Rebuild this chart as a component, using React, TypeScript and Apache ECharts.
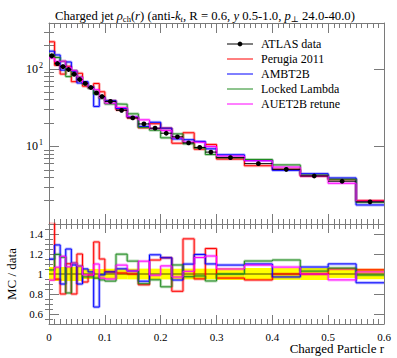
import React, { useEffect, useRef } from "react";
import * as echarts from "echarts";

const binEdges = [0, 0.01, 0.02, 0.03, 0.04, 0.05, 0.06, 0.07, 0.08, 0.09, 0.1, 0.12, 0.14, 0.16, 0.18, 0.2, 0.22, 0.24, 0.26, 0.28, 0.3, 0.35, 0.4, 0.45, 0.5, 0.55, 0.6];
const atlasData = [147, 117, 107, 98, 85.5, 73, 65, 57.5, 49, 44, 38, 29.2, 23.3, 19.5, 17.2, 14.8, 13.3, 11.1, 9.7, 8.45, 7.16, 6.0, 5.07, 4.16, 3.56, 1.93];
const atlasErr = [10.3, 8.2, 7.5, 6.9, 6.0, 5.1, 3.3, 2.9, 2.5, 2.2, 2.0, 1.55, 1.25, 1.05, 0.92, 0.8, 0.7, 0.6, 0.52, 0.45, 0.43, 0.36, 0.3, 0.25, 0.14, 0.1];
const perugia2011 = [223, 111, 85.6, 108, 68.4, 87.6, 59.8, 56.9, 64.7, 50.6, 38.8, 29.5, 23.3, 17.4, 19.6, 17.2, 11.0, 15.0, 9.22, 10.6, 6.87, 5.64, 5.07, 4.16, 3.74, 2.01];
const ambt2b = [169, 151, 96.3, 122.5, 93.2, 65.7, 68.3, 58.7, 32.8, 43.6, 38.8, 30.7, 24.0, 18.1, 20.5, 17.2, 12.5, 12.2, 11.6, 9.3, 7.8, 6.6, 4.92, 4.45, 3.92, 1.76];
const lockedLambda = [153, 140, 125, 79.4, 94.9, 78.8, 63.1, 55.8, 47.0, 41.4, 35.3, 35.0, 26.3, 17.6, 16.2, 12.9, 14.5, 10.8, 9.51, 7.86, 7.16, 6.78, 5.78, 4.28, 3.77, 1.91];
const auet2bRetune = [138, 125, 126, 105, 94.9, 78.8, 64.4, 56.9, 53.9, 42.2, 36.1, 31.8, 24.0, 22.0, 17.0, 16.0, 12.9, 11.4, 11.3, 9.97, 7.52, 6.54, 5.42, 4.16, 3.35, 1.97];

const legendNames = ["ATLAS data", "Perugia 2011", "AMBT2B", "Locked Lambda", "AUET2B retune"];
const mcColors = ["#ff0000", "#0000ff", "#1f8a1f", "#ff00ff"];
const logMajorTicks = [1, 10, 100];
const logLabelTicks = [10, 100];
const logMinorTicks = [2, 3, 4, 5, 6, 7, 8, 9, 20, 30, 40, 50, 60, 70, 80, 90, 200, 300];
const ratioMajorTicks = [0.6, 0.8, 1, 1.2, 1.4];
const ratioMinorTicks = [0.55, 0.65, 0.7, 0.75, 0.85, 0.9, 0.95, 1.05, 1.1, 1.15, 1.25, 1.3, 1.35, 1.45];

const FONT = "'Liberation Serif', 'DejaVu Serif', serif";
const AX = "#7a7a7a";

function steps(vals: number[]) {
  const out: number[][] = [];
  vals.forEach((v, i) => {
    out.push([binEdges[i], v]);
    out.push([binEdges[i + 1], v]);
  });
  return out;
}

export default function App() {
  const ref = useRef<HTMLDivElement>(null);
  useEffect(() => {
    if (!ref.current) return;
    const chart = echarts.init(ref.current, null, { renderer: "svg" });
    const mcs = [perugia2011, ambt2b, lockedLambda, auet2bRetune];
    const lineAxis = { show: true, onZero: false, lineStyle: { color: AX, width: 1 } };
    const xMain = (gridIndex: number, position: string, labels: boolean, major: number, minor: number) => ({
      type: "value", gridIndex, position, min: 0, max: 0.6, interval: 0.1,
      axisLine: lineAxis,
      axisTick: { show: true, inside: true, length: major, lineStyle: { color: AX } },
      minorTick: { show: true, splitNumber: 10, length: minor, lineStyle: { color: AX } },
      axisLabel: labels
        ? { show: true, margin: 7, fontFamily: FONT, fontSize: 11, color: "#000", formatter: (v: number) => (v === 0 ? "0" : String(Math.round(v * 10) / 10)) }
        : { show: false },
      splitLine: { show: false },
    });
    const yLog = (position: string, ticks: number[], len: number, labels: boolean, line: boolean) => ({
      type: "log", logBase: 10, gridIndex: 0, position, min: 1, max: 390,
      axisLine: line ? lineAxis : { show: false },
      axisTick: { show: true, inside: true, length: len, customValues: ticks, lineStyle: { color: AX } },
      axisLabel: labels
        ? {
            show: true, margin: 6, customValues: logLabelTicks,
            formatter: (v: number) => `{b|10}{s|${Math.round(Math.log10(v))}}`,
            rich: {
              b: { fontFamily: FONT, fontSize: 12, color: "#000" },
              s: { fontFamily: FONT, fontSize: 8, color: "#000", padding: [0, 0, 7, 1] },
            },
          }
        : { show: false },
      splitLine: { show: false },
      minorTick: { show: false },
    });
    const yRatio = (position: string, ticks: number[], len: number, labels: boolean, line: boolean) => ({
      type: "value", gridIndex: 1, position, min: 0.5, max: 1.5,
      axisLine: line ? lineAxis : { show: false },
      axisTick: { show: true, inside: true, length: len, customValues: ticks, lineStyle: { color: AX } },
      axisLabel: labels
        ? { show: true, margin: 6, customValues: ratioMajorTicks, fontFamily: FONT, fontSize: 11, color: "#000", formatter: (v: number) => String(Math.round(v * 10) / 10) }
        : { show: false },
      splitLine: { show: false },
      minorTick: { show: false },
    });

    const series: any[] = [];
    series.push({
      type: "custom", xAxisIndex: 2, yAxisIndex: 4, silent: true, z: 1,
      data: atlasErr.map((e, i) => [binEdges[i], binEdges[i + 1], 1 - e / atlasData[i], 1 + e / atlasData[i]]),
      encode: { x: [0, 1], y: [2, 3] },
      renderItem: (params: any, api: any) => {
        const p1 = api.coord([api.value(0), api.value(3)]);
        const p2 = api.coord([api.value(1), api.value(2)]);
        return { type: "rect", shape: { x: p1[0], y: p1[1], width: p2[0] - p1[0], height: p2[1] - p1[1] }, style: { fill: "#ffff00" } };
      },
    });
    series.push({
      type: "line", xAxisIndex: 2, yAxisIndex: 4, symbol: "none", silent: true, z: 2,
      data: steps(atlasData.map(() => 1)), lineStyle: { color: "#000", width: 0.7 },
    });
    mcs.forEach((vals, k) => {
      const ratio = vals.map((v, i) => v / atlasData[i]);
      series.push({ type: "line", name: legendNames[k + 1] + " band", xAxisIndex: 0, yAxisIndex: 0, symbol: "none", silent: true, z: 2, data: steps(vals), lineStyle: { color: mcColors[k], width: 3, opacity: 0.3 } });
      series.push({ type: "line", name: legendNames[k + 1], xAxisIndex: 0, yAxisIndex: 0, symbol: "none", z: 3, data: steps(vals), lineStyle: { color: mcColors[k], width: 1 } });
      series.push({ type: "line", xAxisIndex: 2, yAxisIndex: 4, symbol: "none", silent: true, z: 3, data: steps(ratio), lineStyle: { color: mcColors[k], width: 3, opacity: 0.3 } });
      series.push({ type: "line", xAxisIndex: 2, yAxisIndex: 4, symbol: "none", z: 4, data: steps(ratio), lineStyle: { color: mcColors[k], width: 1 } });
    });
    series.push({
      type: "custom", name: legendNames[0], xAxisIndex: 0, yAxisIndex: 0, z: 10,
      data: atlasData.map((v, i) => [binEdges[i], binEdges[i + 1], v, atlasErr[i]]),
      encode: { x: [0, 1], y: [2] },
      renderItem: (params: any, api: any) => {
        const lo = api.value(0), hi = api.value(1), y = api.value(2), e = api.value(3);
        const mid = (lo + hi) / 2;
        const pl = api.coord([lo, y]);
        const pr = api.coord([hi, y]);
        const pt = api.coord([mid, y + e]);
        const pb = api.coord([mid, y - e]);
        const pc = api.coord([mid, y]);
        return {
          type: "group",
          children: [
            { type: "line", shape: { x1: pl[0], y1: pl[1], x2: pr[0], y2: pr[1] }, style: { stroke: "#000", lineWidth: 1 } },
            { type: "line", shape: { x1: pt[0], y1: pt[1], x2: pb[0], y2: pb[1] }, style: { stroke: "#000", lineWidth: 1 } },
            { type: "circle", shape: { cx: pc[0], cy: pc[1], r: 2.4 }, style: { fill: "#000" } },
          ],
        };
      },
    });

    const legendGraphics: any[] = [];
    legendNames.forEach((n, i) => {
      const y = 44 + 15 * i;
      const color = i === 0 ? "#000" : mcColors[i - 1];
      legendGraphics.push({ type: "line", shape: { x1: 227, y1: y, x2: 253, y2: y }, style: { stroke: color, lineWidth: 1 } });
      if (i === 0) legendGraphics.push({ type: "circle", shape: { cx: 240, cy: y, r: 2.4 }, style: { fill: "#000" } });
      legendGraphics.push({ type: "text", x: 261, y, style: { text: n, fontFamily: FONT, fontSize: 12, fill: "#000", textVerticalAlign: "middle" } });
    });

    chart.setOption({
      animation: false,
      backgroundColor: "#fff",
      title: {
        text: "Charged jet {i|ρ}{sub|ch}({i|r}) (anti-{i|k}{subi|t}, R = 0.6, {i|y} 0.5-1.0, {i|p}{sub|⊥} 24.0-40.0)",
        left: 50, top: 3,
        textStyle: {
          fontFamily: FONT, fontSize: 12.7, fontWeight: "normal", color: "#000",
          rich: {
            i: { fontFamily: FONT, fontSize: 12.7, fontStyle: "italic", color: "#000" },
            sub: { fontFamily: FONT, fontSize: 8.5, color: "#000", padding: [6, 0, 0, 0] },
            subi: { fontFamily: FONT, fontSize: 8.5, fontStyle: "italic", color: "#000", padding: [6, 0, 0, 0] },
          },
        },
      },
      grid: [
        { left: 49, right: 13, top: 23, height: 201, containLabel: false },
        { left: 49, right: 13, top: 224, height: 100, containLabel: false },
      ],
      xAxis: [
        xMain(0, "bottom", false, 10, 5),
        xMain(0, "top", false, 10, 5),
        xMain(1, "bottom", true, 9, 5),
        xMain(1, "top", false, 9, 5),
      ],
      yAxis: [
        yLog("left", logMajorTicks, 10, true, true),
        yLog("left", logMinorTicks, 5, false, false),
        yLog("right", logMajorTicks, 10, false, true),
        yLog("right", logMinorTicks, 5, false, false),
        yRatio("left", ratioMajorTicks, 10, true, true),
        yRatio("left", ratioMinorTicks, 4, false, false),
        yRatio("right", ratioMajorTicks, 10, false, true),
        yRatio("right", ratioMinorTicks, 4, false, false),
      ],
      series,
      graphic: [
        ...legendGraphics,
        { type: "text", x: 384, y: 342, style: { text: "Charged Particle r", fontFamily: FONT, fontSize: 13, fill: "#000", textAlign: "right" } },
        { type: "text", x: 5, y: 274, rotation: Math.PI / 2, style: { text: "MC / data", fontFamily: FONT, fontSize: 13, fill: "#000", textAlign: "center", textVerticalAlign: "top" } },
      ],
    });
    return () => chart.dispose();
  }, []);
  return <div ref={ref} style={{ position: "fixed", left: 0, top: 0, width: 397, height: 358 }} />;
}
